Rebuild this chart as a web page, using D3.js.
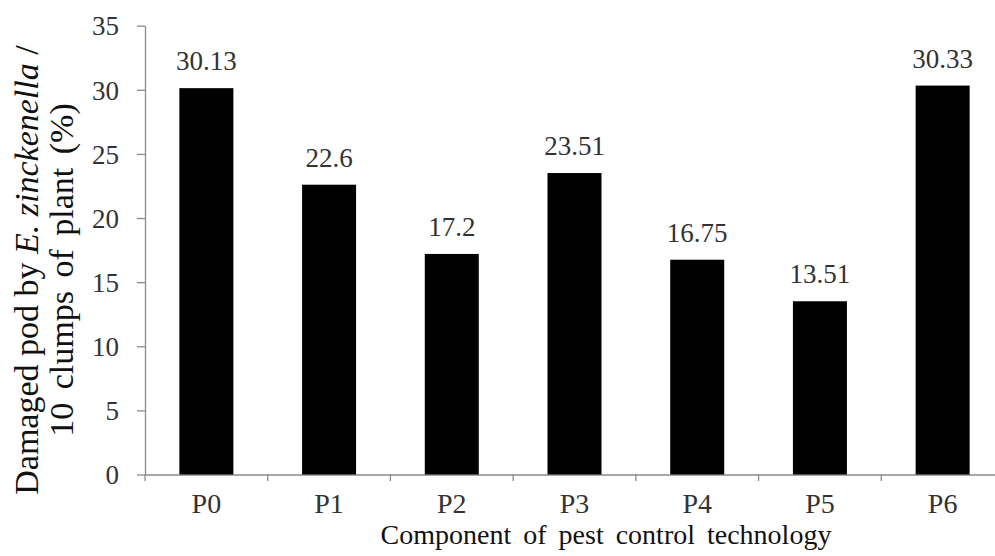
<!DOCTYPE html>
<html><head><meta charset="utf-8">
<script src="https://cdn.jsdelivr.net/npm/d3@7"></script>
<style>body{margin:0;background:#fff}</style>
</head><body>
<svg id="c" width="995" height="556"></svg>
<script>
const categories = ["P0","P1","P2","P3","P4","P5","P6"];
const values = [30.13, 22.6, 17.2, 23.51, 16.75, 13.51, 30.33];
const valueLabels = ["30.13","22.6","17.2","23.51","16.75","13.51","30.33"];
const yTicks = [0,5,10,15,20,25,30,35];

const FONT = `"Liberation Serif"`;
const svg = d3.select("#c");
const x = d3.scaleBand().domain(categories).range([145, 1004]).paddingInner(0.56).paddingOuter(0.28);
const y = d3.scaleLinear().domain([0,35]).range([474.5, 25.7]);
const axisColor = "#8a8a8a", textColor = "#333333";

function serif(sel, size) {
  return sel.attr("font-size", size).style("font-family", FONT);
}

// y axis
const ya = svg.append("g").attr("transform","translate(145,0)")
  .call(d3.axisLeft(y).tickValues(yTicks).tickSize(8).tickPadding(18).tickSizeOuter(0));
serif(ya, 27);
ya.select(".domain").attr("stroke",axisColor).attr("stroke-width",1.3);
ya.selectAll(".tick line").attr("stroke",axisColor).attr("stroke-width",1.3);
serif(ya.selectAll(".tick text").attr("fill",textColor).attr("dy","0.34em"), 27);

// x axis
const xa = svg.append("g").attr("transform","translate(0,474.5)")
  .call(d3.axisBottom(x).tickSize(0).tickPadding(19));
serif(xa, 28);
xa.select(".domain").attr("stroke",axisColor).attr("stroke-width",1.3);
serif(xa.selectAll(".tick text").attr("fill",textColor), 28);
// category boundary ticks
const bounds = d3.range(categories.length + 1).map(i => x.range()[0] + i * x.step());
svg.append("g").selectAll("line").data(bounds).join("line")
  .attr("x1",d=>d).attr("x2",d=>d).attr("y1",474.5).attr("y2",481)
  .attr("stroke",axisColor).attr("stroke-width",1.3);

// bars
svg.append("g").selectAll("rect").data(values).join("rect")
  .attr("x",(d,i)=>x(categories[i])).attr("width",x.bandwidth())
  .attr("y",d=>y(d)).attr("height",d=>y(0)-y(d)).attr("fill","#000");

// value labels
serif(svg.append("g").selectAll("text").data(values).join("text")
  .attr("x",(d,i)=>x(categories[i])+x.bandwidth()/2).attr("y",d=>y(d)-18)
  .attr("text-anchor","middle").attr("fill",textColor)
  .text((d,i)=>valueLabels[i]), 27);

// x title
serif(svg.append("text").attr("x",606).attr("y",544).attr("text-anchor","middle")
  .attr("word-spacing", 5)
  .attr("fill","#111").text("Component  of pest control technology"), 28);

// y title
const yt = serif(svg.append("text").attr("transform","translate(0,270) rotate(-90)")
  .attr("text-anchor","middle").attr("fill","#111"), 34);
const l1 = yt.append("tspan").attr("x",0).attr("y",38);
l1.append("tspan").text("Damaged pod by ");
l1.append("tspan").attr("font-style","italic").text("E. zinckenella");
l1.append("tspan").text(" /");
yt.append("tspan").attr("x",0).attr("y",73).attr("word-spacing",5).text("10 clumps of plant  (%)");
</script>
</body></html>
